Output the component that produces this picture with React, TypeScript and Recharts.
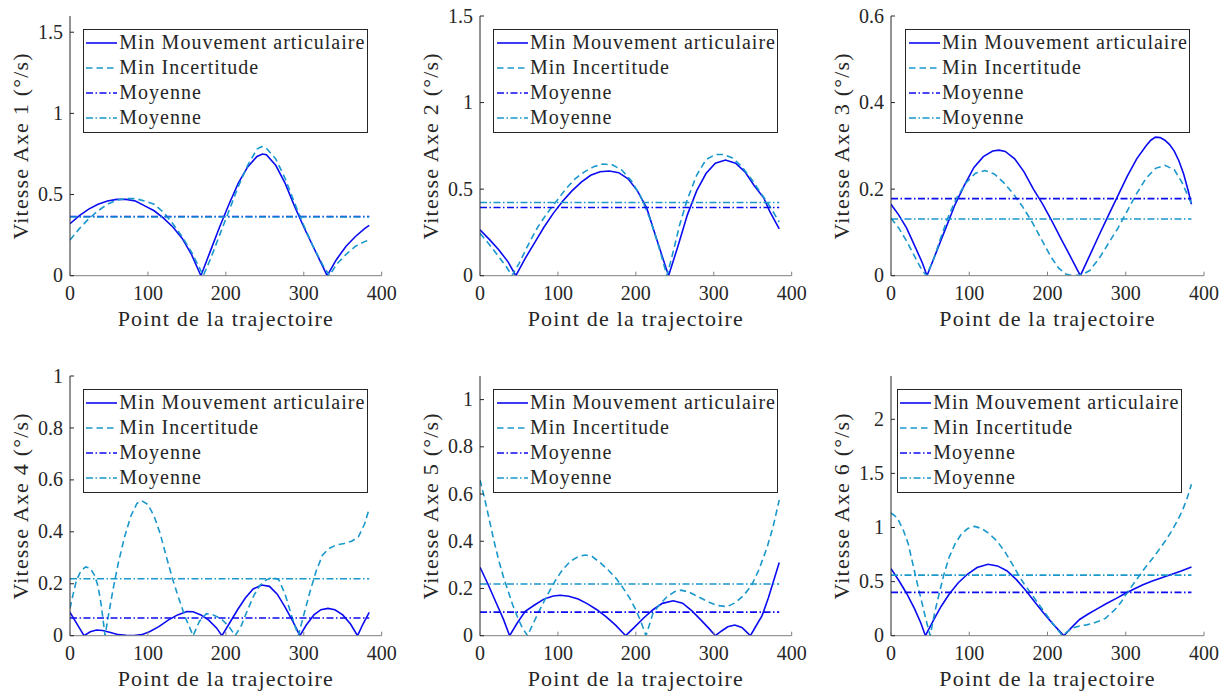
import React from 'react';
import { LineChart, Line, XAxis, YAxis, Legend, Label } from 'recharts';

const FONT = 'Liberation Serif, DejaVu Serif, serif';
const BLUE = '#0b0bf2';
const CYAN = '#1a98cc';
const TEXT = '#262626';
const XAXIS_GRAY = '#808080';
const DASH = '6.5 4';
const DASHDOT = '7 2.5 1.5 2.5';

// ---------- shared labels / ticks ----------
const X_TICKS = [0, 100, 200, 300, 400];
const X_TITLE = 'Point de la trajectoire';
const LEGEND_LABELS = ['Min Mouvement articulaire', 'Min Incertitude', 'Moyenne', 'Moyenne'];
const Y_TITLES = [
  'Vitesse Axe 1 (°/s)',
  'Vitesse Axe 2 (°/s)',
  'Vitesse Axe 3 (°/s)',
  'Vitesse Axe 4 (°/s)',
  'Vitesse Axe 5 (°/s)',
  'Vitesse Axe 6 (°/s)',
];
const Y_MAX = [1.6, 1.5, 0.6, 1, 1.1, 2.4];
const Y_TICKS_1 = [0, 0.5, 1, 1.5];
const Y_TICKS_2 = [0, 0.5, 1, 1.5];
const Y_TICKS_3 = [0, 0.2, 0.4, 0.6];
const Y_TICKS_4 = [0, 0.2, 0.4, 0.6, 0.8, 1];
const Y_TICKS_5 = [0, 0.2, 0.4, 0.6, 0.8, 1];
const Y_TICKS_6 = [0, 0.5, 1, 1.5, 2];

// ---------- Axe 1 ----------
const ax1MvtX = [0, 12, 24, 36, 48, 60, 72, 84, 96, 108, 120, 132, 144, 156, 168, 180, 192, 204, 216, 228, 240, 247, 252, 264, 276, 288, 300, 312, 322, 330, 342, 354, 366, 378, 384];
const ax1MvtY = [0.32, 0.37, 0.41, 0.44, 0.46, 0.47, 0.47, 0.46, 0.43, 0.40, 0.355, 0.30, 0.23, 0.13, 0, 0.15, 0.30, 0.44, 0.57, 0.67, 0.735, 0.75, 0.745, 0.68, 0.57, 0.43, 0.30, 0.18, 0.08, 0, 0.10, 0.18, 0.24, 0.29, 0.31];
const ax1IncX = [0, 12, 24, 36, 48, 60, 72, 84, 96, 108, 120, 132, 144, 156, 166, 171, 180, 192, 204, 216, 228, 240, 246, 252, 264, 276, 288, 300, 312, 324, 333, 342, 354, 366, 378, 384];
const ax1IncY = [0.22, 0.29, 0.35, 0.40, 0.44, 0.465, 0.475, 0.475, 0.46, 0.44, 0.39, 0.32, 0.24, 0.145, 0.05, 0, 0.10, 0.25, 0.40, 0.55, 0.68, 0.78, 0.795, 0.785, 0.72, 0.60, 0.45, 0.31, 0.18, 0.07, 0, 0.07, 0.13, 0.18, 0.21, 0.22];
const ax1Means = [0.365, 0.362];

// ---------- Axe 2 ----------
const ax2MvtX = [0, 12, 24, 36, 46, 58, 70, 82, 94, 106, 118, 130, 142, 154, 166, 178, 190, 202, 214, 226, 234, 242, 254, 266, 278, 290, 302, 315, 328, 340, 352, 364, 372, 384];
const ax2MvtY = [0.265, 0.21, 0.15, 0.08, 0, 0.10, 0.19, 0.28, 0.36, 0.43, 0.49, 0.54, 0.58, 0.60, 0.605, 0.595, 0.56, 0.49, 0.39, 0.22, 0.11, 0, 0.17, 0.35, 0.49, 0.59, 0.65, 0.668, 0.65, 0.60, 0.52, 0.45, 0.37, 0.27];
const ax2IncX = [0, 12, 24, 34, 41, 50, 62, 74, 86, 98, 110, 122, 134, 146, 158, 170, 182, 194, 206, 218, 228, 240, 248, 256, 266, 278, 290, 302, 312, 324, 336, 348, 360, 372, 384];
const ax2IncY = [0.245, 0.18, 0.11, 0.05, 0, 0.07, 0.18, 0.28, 0.36, 0.43, 0.50, 0.56, 0.60, 0.63, 0.645, 0.64, 0.61, 0.55, 0.46, 0.33, 0.19, 0, 0.14, 0.29, 0.44, 0.58, 0.67, 0.70, 0.70, 0.68, 0.63, 0.56, 0.48, 0.40, 0.31];
const ax2Means = [0.394, 0.423];

// ---------- Axe 3 ----------
const ax3MvtX = [0, 10, 20, 30, 40, 46, 58, 70, 82, 94, 106, 118, 130, 138, 146, 158, 170, 182, 194, 206, 218, 230, 242, 254, 266, 278, 290, 302, 314, 326, 332, 338, 344, 350, 356, 362, 368, 374, 380, 384];
const ax3MvtY = [0.165, 0.14, 0.11, 0.07, 0.03, 0, 0.055, 0.11, 0.165, 0.21, 0.25, 0.275, 0.288, 0.29, 0.287, 0.27, 0.24, 0.20, 0.165, 0.125, 0.083, 0.042, 0, 0.047, 0.094, 0.14, 0.185, 0.23, 0.27, 0.30, 0.313, 0.32, 0.319, 0.313, 0.303, 0.288, 0.265, 0.235, 0.195, 0.165];
const ax3IncX = [0, 10, 20, 30, 38, 45, 54, 64, 74, 84, 96, 108, 120, 132, 144, 156, 168, 180, 192, 204, 214, 224, 234, 244, 254, 266, 278, 290, 302, 314, 326, 338, 350, 362, 372, 384];
const ax3IncY = [0.133, 0.11, 0.08, 0.045, 0.018, 0, 0.035, 0.09, 0.14, 0.18, 0.215, 0.237, 0.243, 0.235, 0.215, 0.19, 0.16, 0.125, 0.085, 0.045, 0.018, 0.003, 0, 0.002, 0.012, 0.04, 0.075, 0.11, 0.15, 0.19, 0.225, 0.248, 0.255, 0.245, 0.215, 0.166];
const ax3Means = [0.178, 0.131];

// ---------- Axe 4 ----------
const ax4MvtX = [0, 6, 12, 18, 26, 34, 42, 52, 62, 72, 82, 92, 102, 114, 126, 138, 150, 158, 168, 178, 188, 195, 205, 215, 225, 235, 246, 256, 266, 276, 286, 295, 303, 313, 322, 331, 340, 350, 360, 369, 376, 384];
const ax4MvtY = [0.09, 0.06, 0.03, 0, 0.015, 0.022, 0.02, 0.012, 0.004, 0.002, 0.001, 0.004, 0.015, 0.035, 0.06, 0.08, 0.093, 0.092, 0.08, 0.06, 0.03, 0, 0.05, 0.10, 0.145, 0.18, 0.195, 0.19, 0.16, 0.11, 0.055, 0, 0.04, 0.08, 0.10, 0.105, 0.10, 0.08, 0.045, 0, 0.045, 0.09];
const ax4IncX = [0, 4, 8, 14, 20, 26, 32, 36, 40, 45, 50, 56, 62, 70, 78, 86, 92, 100, 108, 116, 124, 132, 140, 148, 158, 166, 175, 184, 194, 204, 212, 220, 228, 236, 244, 252, 260, 268, 276, 284, 293, 300, 308, 316, 324, 332, 342, 352, 362, 370, 378, 384];
const ax4IncY = [0.105, 0.16, 0.21, 0.25, 0.265, 0.26, 0.23, 0.19, 0.12, 0, 0.09, 0.19, 0.28, 0.38, 0.46, 0.51, 0.52, 0.505, 0.46, 0.39, 0.30, 0.215, 0.14, 0.07, 0, 0.055, 0.085, 0.08, 0.065, 0.035, 0, 0.04, 0.10, 0.155, 0.195, 0.215, 0.225, 0.215, 0.16, 0.08, 0, 0.08, 0.17, 0.25, 0.31, 0.335, 0.35, 0.355, 0.365, 0.38, 0.43, 0.49];
const ax4Means = [0.068, 0.2195];

// ---------- Axe 5 ----------
const ax5MvtX = [0, 10, 20, 30, 38, 48, 58, 70, 82, 94, 103, 114, 126, 138, 150, 162, 174, 187, 198, 210, 222, 234, 248, 260, 272, 284, 294, 302, 310, 318, 327, 336, 342, 347, 354, 362, 370, 378, 384];
const ax5MvtY = [0.29, 0.22, 0.145, 0.07, 0, 0.055, 0.103, 0.13, 0.155, 0.168, 0.171, 0.167, 0.155, 0.135, 0.11, 0.08, 0.045, 0, 0.035, 0.075, 0.11, 0.137, 0.148, 0.138, 0.105, 0.065, 0.03, 0, 0.02, 0.038, 0.045, 0.035, 0.016, 0, 0.04, 0.085, 0.16, 0.245, 0.31];
const ax5IncX = [0, 6, 12, 18, 24, 30, 36, 42, 48, 54, 61, 68, 76, 86, 96, 106, 116, 126, 135, 144, 154, 164, 174, 182, 192, 200, 207, 213, 222, 230, 240, 250, 258, 268, 280, 292, 304, 317, 328, 338, 348, 358, 368, 376, 384];
const ax5IncY = [0.66, 0.58, 0.49, 0.40, 0.32, 0.25, 0.19, 0.13, 0.08, 0.035, 0, 0.05, 0.105, 0.17, 0.23, 0.28, 0.315, 0.335, 0.342, 0.335, 0.31, 0.28, 0.245, 0.21, 0.16, 0.11, 0.055, 0, 0.095, 0.13, 0.165, 0.187, 0.193, 0.185, 0.165, 0.145, 0.128, 0.123, 0.14, 0.17, 0.21, 0.28, 0.37, 0.46, 0.575];
const ax5Means = [0.1, 0.219];

// ---------- Axe 6 ----------
const ax6MvtX = [0, 10, 20, 30, 38, 44, 54, 64, 74, 86, 98, 110, 124, 136, 148, 160, 172, 184, 196, 208, 221, 230, 241, 252, 264, 276, 288, 298, 310, 322, 334, 346, 358, 370, 384];
const ax6MvtY = [0.62, 0.51, 0.39, 0.25, 0.12, 0, 0.14, 0.27, 0.38, 0.49, 0.57, 0.63, 0.66, 0.645, 0.60, 0.52, 0.42, 0.31, 0.20, 0.10, 0, 0.07, 0.15, 0.20, 0.25, 0.30, 0.345, 0.385, 0.43, 0.47, 0.505, 0.535, 0.565, 0.595, 0.635];
const ax6IncX = [0, 8, 16, 22, 28, 34, 40, 45, 50, 56, 62, 67, 74, 82, 90, 98, 107, 116, 126, 136, 146, 156, 163, 170, 178, 188, 198, 208, 219, 226, 232, 241, 250, 258, 266, 274, 286, 294, 301, 310, 318, 326, 335, 343, 350, 358, 365, 372, 378, 384];
const ax6IncY = [1.135, 1.09, 0.97, 0.85, 0.66, 0.47, 0.29, 0.14, 0, 0.22, 0.40, 0.55, 0.72, 0.85, 0.94, 0.99, 1.01, 0.99, 0.94, 0.87, 0.77, 0.65, 0.56, 0.48, 0.40, 0.30, 0.20, 0.10, 0, 0.04, 0.07, 0.09, 0.10, 0.115, 0.135, 0.16, 0.24, 0.31, 0.39, 0.48, 0.56, 0.64, 0.72, 0.80, 0.87, 0.96, 1.05, 1.15, 1.26, 1.40];
const ax6Means = [0.40, 0.56];

type Pt = { x: number; y: number };
const pts = (xs: number[], ys: number[]): Pt[] => xs.map((x, i) => ({ x, y: ys[i] }));
const flat = (xs: number[], v: number): Pt[] => [
  { x: xs[0], y: v },
  { x: xs[xs.length - 1], y: v },
];

const SERIES = [
  [ax1MvtX, ax1MvtY, ax1IncX, ax1IncY, ax1Means, Y_TICKS_1],
  [ax2MvtX, ax2MvtY, ax2IncX, ax2IncY, ax2Means, Y_TICKS_2],
  [ax3MvtX, ax3MvtY, ax3IncX, ax3IncY, ax3Means, Y_TICKS_3],
  [ax4MvtX, ax4MvtY, ax4IncX, ax4IncY, ax4Means, Y_TICKS_4],
  [ax5MvtX, ax5MvtY, ax5IncX, ax5IncY, ax5Means, Y_TICKS_5],
  [ax6MvtX, ax6MvtY, ax6IncX, ax6IncY, ax6Means, Y_TICKS_6],
] as any[];

// layout (positions only)
const LAYOUT = [
  { left: 0, top: 0, width: 409, plotLeft: 70, plotRight: 381.7, legendLeft: 82.7 },
  { left: 410, top: 0, width: 409, plotLeft: 70, plotRight: 381.7, legendLeft: 83.3 },
  { left: 820, top: 0, width: 407, plotLeft: 71, plotRight: 384, legendLeft: 85.3 },
  { left: 0, top: 360, width: 409, plotLeft: 70, plotRight: 381.7, legendLeft: 82.7 },
  { left: 410, top: 360, width: 409, plotLeft: 70, plotRight: 381.7, legendLeft: 83.3 },
  { left: 820, top: 360, width: 407, plotLeft: 71, plotRight: 384, legendLeft: 76.7 },
];

const CHART_H = 345;
const PLOT_TOP = 16;
const PLOT_BOTTOM = 275.7;
const YAXIS_W = 60;
const XAXIS_H = 60;

const LEGEND_STYLES = [
  { stroke: BLUE, dash: undefined as string | undefined },
  { stroke: CYAN, dash: DASH },
  { stroke: BLUE, dash: DASHDOT },
  { stroke: CYAN, dash: DASHDOT },
];

const XTick = (props: any) => {
  const { x, y, payload } = props;
  return (
    <g>
      <line x1={x} x2={x} y1={y} y2={y - 4} stroke={XAXIS_GRAY} strokeWidth={1} />
      <text x={x} y={y + 24} textAnchor="middle" fill={TEXT} fontFamily={FONT} fontSize={20}>
        {String(payload.value)}
      </text>
    </g>
  );
};

const YTick = (props: any) => {
  const { x, y, payload } = props;
  return (
    <g>
      <line x1={x} x2={x + 4} y1={y} y2={y} stroke={TEXT} strokeWidth={1} />
      <text x={x - 7} y={y} dy="0.33em" textAnchor="end" fill={TEXT} fontFamily={FONT} fontSize={20}>
        {String(payload.value)}
      </text>
    </g>
  );
};

const makeYTitle = (title: string) => (props: any) => {
  const vb = props.viewBox || {};
  const cx = vb.x + vb.width - 42;
  const cy = vb.y + vb.height / 2;
  return (
    <text
      x={cx}
      y={cy}
      transform={`rotate(-90 ${cx} ${cy})`}
      textAnchor="middle"
      fill={TEXT}
      fontFamily={FONT}
      fontSize={22}
      letterSpacing={1.2}
    >
      {title}
    </text>
  );
};

const makeXTitle = (title: string) => (props: any) => {
  const vb = props.viewBox || {};
  const cx = vb.x + vb.width / 2;
  const cy = vb.y + 50;
  return (
    <text x={cx} y={cy} textAnchor="middle" fill={TEXT} fontFamily={FONT} fontSize={22} letterSpacing={1.2}>
      {title}
    </text>
  );
};

const LegendBox = () => (
  <div
    style={{
      width: 285,
      height: 103.3,
      boxSizing: 'border-box',
      border: `1px solid ${TEXT}`,
      background: '#fff',
    }}
  >
    {LEGEND_LABELS.map((label, i) => (
      <div key={i} style={{ height: 25, display: 'flex', alignItems: 'center' }}>
        <svg width={31} height={6} style={{ marginLeft: 2.3, flexShrink: 0, display: 'block' }}>
          <line
            x1={0}
            x2={31}
            y1={3}
            y2={3}
            stroke={LEGEND_STYLES[i].stroke}
            strokeWidth={1.6}
            strokeDasharray={LEGEND_STYLES[i].dash}
          />
        </svg>
        <span
          style={{
            marginLeft: 2.3,
            fontFamily: FONT,
            fontSize: 20,
            letterSpacing: 1,
            color: TEXT,
            whiteSpace: 'nowrap',
            lineHeight: '25px',
          }}
        >
          {label}
        </span>
      </div>
    ))}
  </div>
);

const Panel = ({ idx }: { idx: number }) => {
  const L = LAYOUT[idx];
  const [mX, mY, iX, iY, means, yTicks] = SERIES[idx];
  const mvt = pts(mX, mY);
  const inc = pts(iX, iY);
  const meanMvt = flat(mX, means[0]);
  const meanInc = flat(iX, means[1]);
  const margin = {
    top: PLOT_TOP,
    left: L.plotLeft - YAXIS_W,
    right: L.width - L.plotRight,
    bottom: CHART_H - PLOT_BOTTOM - XAXIS_H,
  };
  return (
    <div style={{ position: 'absolute', left: L.left, top: L.top }}>
      <LineChart width={L.width} height={CHART_H} margin={margin}>
        <XAxis
          type="number"
          dataKey="x"
          domain={[0, 400]}
          ticks={X_TICKS}
          interval={0}
          allowDataOverflow
          height={XAXIS_H}
          tickSize={0}
          tickMargin={0}
          tickLine={false}
          tick={XTick}
          axisLine={{ stroke: XAXIS_GRAY, strokeWidth: 1 }}
        >
          <Label content={makeXTitle(X_TITLE)} />
        </XAxis>
        <YAxis
          type="number"
          dataKey="y"
          domain={[0, Y_MAX[idx]]}
          ticks={yTicks}
          interval={0}
          allowDataOverflow
          width={YAXIS_W}
          tickSize={0}
          tickMargin={0}
          tickLine={false}
          tick={YTick}
          axisLine={{ stroke: TEXT, strokeWidth: 1 }}
        >
          <Label content={makeYTitle(Y_TITLES[idx])} />
        </YAxis>
        <Line data={mvt} dataKey="y" name={LEGEND_LABELS[0]} type="linear" stroke={BLUE} strokeWidth={1.6} dot={false} activeDot={false} isAnimationActive={false} />
        <Line data={inc} dataKey="y" name={LEGEND_LABELS[1]} type="linear" stroke={CYAN} strokeWidth={1.6} strokeDasharray={DASH} dot={false} activeDot={false} isAnimationActive={false} />
        <Line data={meanMvt} dataKey="y" name={LEGEND_LABELS[2]} type="linear" stroke={BLUE} strokeWidth={1.6} strokeDasharray={DASHDOT} dot={false} activeDot={false} isAnimationActive={false} />
        <Line data={meanInc} dataKey="y" name={LEGEND_LABELS[3]} type="linear" stroke={CYAN} strokeWidth={1.6} strokeDasharray={DASHDOT} dot={false} activeDot={false} isAnimationActive={false} />
        <Legend
          layout="vertical"
          align="center"
          verticalAlign="middle"
          wrapperStyle={{ left: L.legendLeft, top: 29.3, width: 285, height: 103.3, margin: 0, padding: 0 }}
          content={() => <LegendBox />}
        />
      </LineChart>
    </div>
  );
}

export default function App() {
  return (
    <div style={{ position: 'absolute', left: 0, top: 0, width: 1227, height: 691, background: '#fff' }}>
      {LAYOUT.map((_, i) => (
        <Panel key={i} idx={i} />
      ))}
    </div>
  );
}
